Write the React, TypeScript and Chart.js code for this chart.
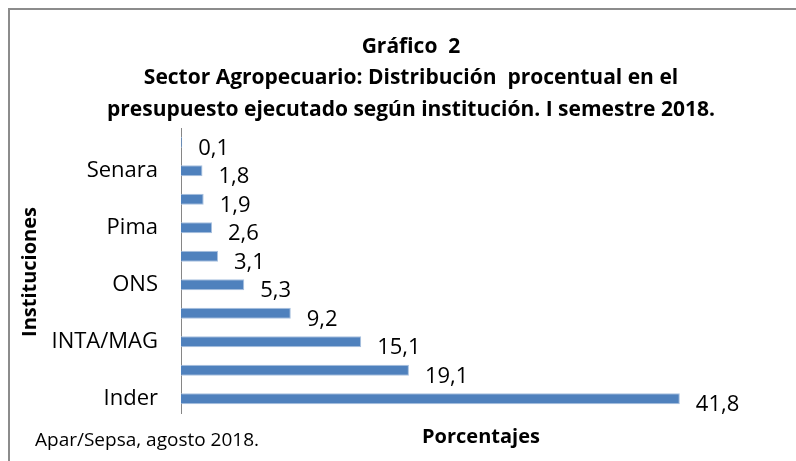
import React, { useEffect, useRef } from "react";
import { Chart, registerables } from "chart.js";

Chart.register(...registerables);

const categories = ["", "Senara", "", "Pima", "", "ONS", "", "INTA/MAG", "", "Inder"];
const values = [0.1, 1.8, 1.9, 2.6, 3.1, 5.3, 9.2, 15.1, 19.1, 41.8];
const titleLines = [
  "Gráfico  2",
  "Sector Agropecuario: Distribución  procentual en el",
  "presupuesto ejecutado según institución. I semestre 2018.",
];
const yTitle = "Instituciones";
const xTitle = "Porcentajes";
const sourceNote = "Apar/Sepsa, agosto 2018.";

const FONT = "'Open Sans', sans-serif";

export default function App() {
  const ref = useRef<HTMLCanvasElement | null>(null);

  useEffect(() => {
    if (!ref.current) return;
    const decor = {
      id: "decor",
      beforeDraw(chart: any) {
        const ctx = chart.ctx;
        ctx.save();
        ctx.fillStyle = "#ffffff";
        ctx.fillRect(0, 0, chart.width, chart.height);
        ctx.strokeStyle = "#8c8c8c";
        ctx.lineWidth = 2;
        ctx.beginPath();
        ctx.moveTo(9, chart.height);
        ctx.lineTo(9, 9);
        ctx.lineTo(chart.width, 9);
        ctx.stroke();
        ctx.restore();
      },
      afterDraw(chart: any) {
        const ctx = chart.ctx;
        ctx.save();
        ctx.fillStyle = "#000";
        ctx.textAlign = "center";
        ctx.textBaseline = "middle";
        ctx.font = `bold 21px ${FONT}`;
        const ys = [47, 78, 110];
        titleLines.forEach((t, i) => ctx.fillText(t, 411, ys[i]));
        ctx.font = `bold 20px ${FONT}`;
        ctx.fillText(xTitle, 481, 437);
        ctx.save();
        ctx.translate(30, 272);
        ctx.rotate(-Math.PI / 2);
        ctx.fillText(yTitle, 0, 0);
        ctx.restore();
        ctx.textAlign = "left";
        ctx.font = `19px ${FONT}`;
        ctx.fillText(sourceNote, 35, 441);
        // data labels
        ctx.font = `22px ${FONT}`;
        const meta = chart.getDatasetMeta(0);
        meta.data.forEach((bar: any, i: number) => {
          const txt = values[i].toFixed(1).replace(".", ",");
          ctx.fillText(txt, bar.x + 16, bar.y + 6);
        });
        ctx.restore();
      },
    };

    const chart = new Chart(ref.current, {
      type: "bar",
      data: {
        labels: categories,
        datasets: [
          {
            data: values,
            backgroundColor: "#4f81bd",
            borderColor: "#a9c1df",
            borderWidth: { right: 1, top: 1, bottom: 1, left: 0 } as any,
            barPercentage: 0.76,
            categoryPercentage: 0.5,
          },
        ],
      },
      options: {
        indexAxis: "y",
        responsive: false,
        animation: false,
        devicePixelRatio: 1,
        layout: { padding: { left: 0, top: 128, right: 78, bottom: 48 } },
        plugins: {
          legend: { display: false },
          title: { display: false },
          tooltip: { enabled: false },
        },
        scales: {
          x: {
            min: 0,
            max: 45,
            display: true,
            ticks: { display: false },
            grid: { display: false },
            border: { display: false },
            afterFit: (s: any) => {
              s.height = 0;
            },
          },
          y: {
            ticks: {
              autoSkip: false,
              padding: 23,
              color: "#000",
              font: { family: FONT, size: 22 },
            },
            grid: { display: false, drawTicks: false },
            border: { display: true, color: "#868686", width: 1 },
            afterFit: (s: any) => {
              s.width = 181;
            },
          },
        },
      },
      plugins: [decor],
    });
    return () => chart.destroy();
  }, []);

  return (
    <div style={{ position: "absolute", left: 0, top: 0, width: 796, height: 461 }}>
      <canvas ref={ref} width={796} height={461} style={{ display: "block" }} />
    </div>
  );
}
